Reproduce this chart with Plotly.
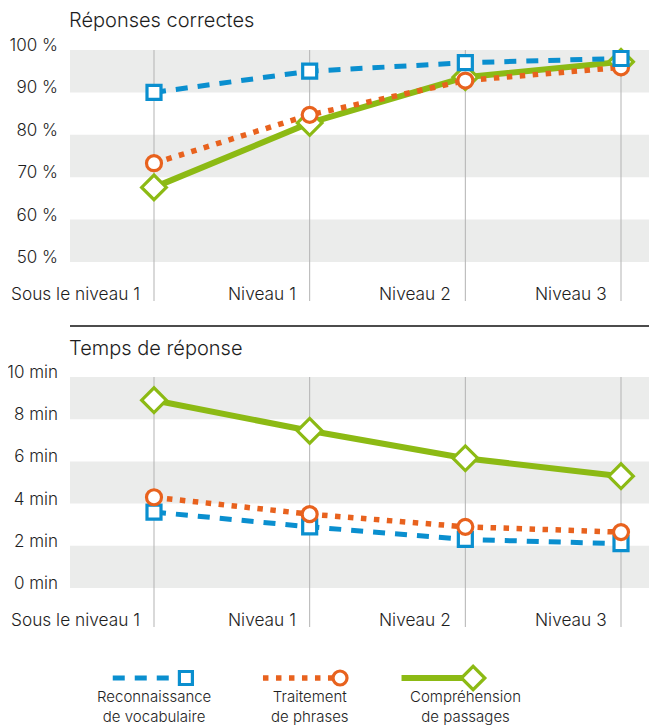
import plotly.graph_objects as go

# ---------------- data ----------------
categories = ["Sous le niveau 1", "Niveau 1", "Niveau 2", "Niveau 3"]
series_names = ["Reconnaissance<br>de vocabulaire", "Traitement<br>de phrases", "Compréhension<br>de passages"]

acc_vocab = [90.0, 95.0, 97.0, 98.0]
acc_sentence = [73.3, 84.7, 92.8, 95.9]
acc_passage = [67.6, 82.8, 93.6, 97.2]

time_vocab = [3.6, 2.9, 2.3, 2.1]
time_sentence = [4.3, 3.5, 2.9, 2.65]
time_passage = [8.9, 7.45, 6.15, 5.3]

acc_ticks = [50, 60, 70, 80, 90, 100]
acc_ticklabels = ["50 %", "60 %", "70 %", "80 %", "90 %", "100 %"]
time_ticks = [0, 2, 4, 6, 8, 10]
time_ticklabels = ["0 min", "2 min", "4 min", "6 min", "8 min", "10 min"]

title_top = "Réponses correctes"
title_bottom = "Temps de réponse"

# ---------------- styles ----------------
OFF = 8  # page body margin
W, H = 657 - OFF, 728 - OFF
FONT = "Inter"
WEIGHT = 300
TXT = "#1e1e1e"
BAND = "#ebeceb"
VLINE = "#b3b3b3"
BLUE = "#0a8fcf"
ORANGE = "#e8621e"
GREEN = "#8cba14"

def px(x):  # screenshot pixel x -> paper
    return (x - OFF) / W

def py(y):  # screenshot pixel y -> paper
    return 1 - (y - OFF) / H

xs = list(range(len(categories)))
x_range = [(70 - 154) / 155.67, (OFF + W - 154) / 155.67]
x_dom = [px(70), 1.0]

styles = {
    "vocab": dict(line=dict(color=BLUE, width=5, dash="12px,10px"),
                  symbol="square", size=14, color=BLUE),
    "sentence": dict(line=dict(color=ORANGE, width=5.5, dash="5.5px,7.5px"),
                     symbol="circle", size=15, color=ORANGE),
    "passage": dict(line=dict(color=GREEN, width=6),
                    symbol="diamond", size=19, color=GREEN),
}

def marker_of(st, shrink=0):
    return dict(symbol=st["symbol"], size=st["size"] - shrink, color="white",
                line=dict(width=3.2, color=st["color"]))

def add_series(fig, y, key, xa, ya):
    st = styles[key]
    fig.add_trace(go.Scatter(
        x=xs, y=y, mode="lines+markers", xaxis=xa, yaxis=ya,
        line=st["line"], marker=marker_of(st),
        showlegend=False, hoverinfo="skip", cliponaxis=False))

fig = go.Figure()
# top panel: green, orange, blue
add_series(fig, acc_passage, "passage", "x", "y")
add_series(fig, acc_sentence, "sentence", "x", "y")
add_series(fig, acc_vocab, "vocab", "x", "y")
# bottom panel: green, blue, orange
add_series(fig, time_passage, "passage", "x2", "y2")
add_series(fig, time_vocab, "vocab", "x2", "y2")
add_series(fig, time_sentence, "sentence", "x2", "y2")

# legend keys (third hidden axis)
legend_keys = [("vocab", -0.265, 0.205), ("sentence", -0.30, 0.195), ("passage", -0.41, 0.05)]
for i, (key, a, b) in enumerate(legend_keys):
    st = styles[key]
    fig.add_trace(go.Scatter(x=[i + a, i + b], y=[0.5, 0.5], mode="lines", xaxis="x3", yaxis="y3",
                             line=st["line"], showlegend=False, hoverinfo="skip", cliponaxis=False))
    fig.add_trace(go.Scatter(x=[i + b], y=[0.5], mode="markers", xaxis="x3", yaxis="y3",
                             marker=marker_of(st, 1),
                             showlegend=False, hoverinfo="skip", cliponaxis=False))
    fig.add_annotation(x=i, y=py(706), xref="x3", yref="paper", text=series_names[i],
                       showarrow=False, xanchor="center", yanchor="middle",
                       font=dict(family=FONT, size=15, color=TXT, weight=WEIGHT), align="center")

shapes = []
for (y0, y1) in [(90, 100), (70, 80), (50, 60)]:
    shapes.append(dict(type="rect", xref="x domain", yref="y", x0=0, x1=1, y0=y0, y1=y1,
                       fillcolor=BAND, line=dict(width=0), layer="below"))
for (y0, y1) in [(8, 10), (4, 6), (0, 2)]:
    shapes.append(dict(type="rect", xref="x2 domain", yref="y2", x0=0, x1=1, y0=y0, y1=y1,
                       fillcolor=BAND, line=dict(width=0), layer="below"))
for i in xs:
    shapes.append(dict(type="line", xref="x", yref="paper", x0=i, x1=i, y0=py(50), y1=py(301),
                       line=dict(color=VLINE, width=1), layer="below"))
    shapes.append(dict(type="line", xref="x2", yref="paper", x0=i, x1=i, y0=py(377), y1=py(627),
                       line=dict(color=VLINE, width=1), layer="below"))
shapes.append(dict(type="line", xref="paper", yref="paper", x0=px(70), x1=1, y0=py(326), y1=py(326),
                   line=dict(color="#111111", width=1.5)))

annotations = []
for i, c in enumerate(categories):
    for xr, ypix in [("x", 294), ("x2", 619)]:
        annotations.append(dict(x=i, y=py(ypix), xref=xr, yref="paper", text=c, showarrow=False,
                                xanchor="right", yanchor="middle", xshift=-12,
                                font=dict(family=FONT, size=17.3, color=TXT, weight=WEIGHT)))
annotations.append(dict(x=px(70), y=py(20), xref="paper", yref="paper", text=title_top, showarrow=False,
                        xanchor="left", yanchor="middle", xshift=-3,
                        font=dict(family=FONT, size=20, color=TXT, weight=WEIGHT)))
annotations.append(dict(x=px(70), y=py(348), xref="paper", yref="paper", text=title_bottom, showarrow=False,
                        xanchor="left", yanchor="middle", xshift=-3,
                        font=dict(family=FONT, size=20, color=TXT, weight=WEIGHT)))
for a in annotations:
    fig.add_annotation(**a)

hidden_x = dict(range=x_range, domain=x_dom, showgrid=False, zeroline=False, showticklabels=False,
                showline=False, ticks="", fixedrange=True, automargin=False)
tickfont = dict(family=FONT, size=17, color=TXT, weight=WEIGHT)
fig.update_layout(
    width=W, height=H, margin=dict(l=0, r=0, t=0, b=0, pad=0, autoexpand=False),
    paper_bgcolor="white", plot_bgcolor="rgba(0,0,0,0)",
    font=dict(family=FONT, size=15, color=TXT),
    showlegend=False,
    shapes=shapes,
    xaxis=dict(hidden_x, anchor="y"),
    xaxis2=dict(hidden_x, anchor="y2"),
    xaxis3=dict(hidden_x, anchor="y3"),
    yaxis=dict(range=[50, 100], domain=[py(262), py(50)], anchor="x", tickvals=acc_ticks,
               ticktext=acc_ticklabels, showgrid=False, zeroline=False, showline=False,
               ticks="", ticklabelstandoff=11, ticklabelshift=-5, tickfont=tickfont, automargin=False),
    yaxis2=dict(range=[0, 10], domain=[py(588), py(377)], anchor="x2", tickvals=time_ticks,
                ticktext=time_ticklabels, showgrid=False, zeroline=False, showline=False,
                ticks="", ticklabelstandoff=11, ticklabelshift=-5, tickfont=tickfont, automargin=False),
    yaxis3=dict(range=[0, 1], domain=[py(688), py(668)], anchor="x3", visible=False, automargin=False),
)

fig.write_html("out.html")
